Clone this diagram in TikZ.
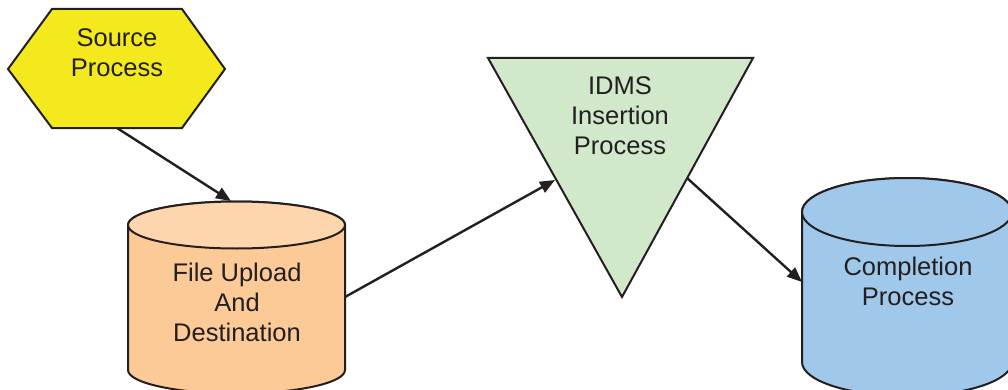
\documentclass[tikz,border=0pt]{standalone}
\usepackage{fontspec}
\setmainfont{Liberation Sans}
\usetikzlibrary{arrows.meta}
\definecolor{ink}{HTML}{231F20}
\definecolor{yel}{HTML}{F3E91C}
\definecolor{orbody}{HTML}{FBCA97}
\definecolor{ortop}{HTML}{FDD6AE}
\definecolor{grn}{HTML}{D1E8CB}
\definecolor{blu}{HTML}{A0C8EA}
\tikzset{
  shapeline/.style={draw=ink, line width=2pt, line join=miter},
  lbl/.style={align=center, text=ink, font=\fontsize{25.5}{30}\selectfont, inner sep=0pt},
  conn/.style={draw=ink, line width=2.4pt, -{Triangle[length=15pt,width=12pt]}}
}
\begin{document}
\begin{tikzpicture}[x=1pt,y=1pt]
\useasboundingbox (0,0) rectangle (1008,389);
% hexagon
\path[shapeline, fill=yel] (8,320) -- (52,380) -- (182,380) -- (225,320) -- (182,261) -- (52,261) -- cycle;
\node[lbl] (src) at (117,336) {Source\\Process};
% cylinder 1
\path[shapeline, fill=orbody] (128,164) -- (128,19) arc[start angle=180,end angle=360,x radius=108.5,y radius=23.5] -- (345,164) arc[start angle=0,end angle=180,x radius=108.5,y radius=23.5] -- cycle;
\path[shapeline, fill=ortop] (236.5,164) ellipse [x radius=108.5, y radius=23.5];
\node[lbl] (fud) at (237,87) {File Upload\\And\\Destination};
% triangle
\path[shapeline, fill=grn] (488,331) -- (753,331) -- (622,92) -- cycle;
\node[lbl] (idms) at (620,273) {IDMS\\Insertion\\Process};
% cylinder 2
\path[shapeline, fill=blu] (802,177) -- (802,27) arc[start angle=180,end angle=360,x radius=105,y radius=34] -- (1012,177) arc[start angle=0,end angle=180,x radius=105,y radius=34] -- cycle;
\path[shapeline, fill=blu] (907,177) ellipse [x radius=105, y radius=34];
\node[lbl] (comp) at (908,108) {Completion\\Process};
% connector ends
\coordinate (srcout) at (117,261);
\coordinate (fudin) at (231,188);
\coordinate (fudout) at (345,92);
\coordinate (idmsin) at (555,209);
\coordinate (idmsout) at (687,211);
\coordinate (compin) at (802,107);
\draw[conn] (srcout) -- (fudin);
\draw[conn] (fudout) -- (idmsin);
\draw[conn] (idmsout) -- (compin);
\end{tikzpicture}
\end{document}
